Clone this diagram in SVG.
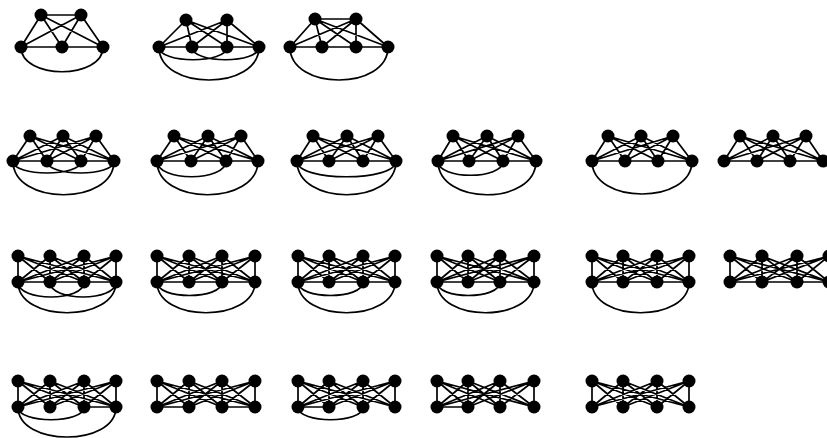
<svg xmlns="http://www.w3.org/2000/svg" width="827" height="438" viewBox="0 0 827 438">
<style>
.e{fill:none;stroke:#000;stroke-width:1.7;stroke-linecap:round}
.n circle{fill:#000}
</style>
<rect width="827" height="438" fill="#fff"/>
<g id="connectors" class="e">
<!-- Row 1 -->
<path d="M41 15L81 15M41 15L21 47M41 15L62 47M41 15L103 47M81 15L21 47M81 15L62 47M81 15L103 47M21 47L103 47"/>
<path d="M21 47C21 80 103 80 103 47"/>
<path d="M186 20L159 47M186 20L192 47M186 20L227 47M186 20L259 47M227 20L159 47M227 20L192 47M227 20L227 47M227 20L259 47M159 47L259 47"/>
<path d="M159 47C159 64 227 64 227 47M192 47C192 64 259 64 259 47M159 47C159 91 259 91 259 47"/>
<path d="M315 19L356 19M315 19L290 47M315 19L322 47M315 19L356 47M315 19L388 47M356 19L290 47M356 19L322 47M356 19L356 47M356 19L388 47M290 47L388 47"/>
<path d="M290 47C290 91 388 91 388 47"/>
<!-- Row 2 -->
<path d="M30 136L13 161M30 136L47 161M30 136L81 161M30 136L114 161M63 136L13 161M63 136L47 161M63 136L81 161M63 136L114 161M96 136L13 161M96 136L47 161M96 136L81 161M96 136L114 161M13 161L114 161"/>
<path d="M13 161C13 177 81 177 81 161M47 161C47 177 114 177 114 161M13 161C13 206 114 206 114 161"/>
<path d="M174 136L157 161M174 136L191 161M174 136L226 161M174 136L258 161M208 136L157 161M208 136L191 161M208 136L226 161M208 136L258 161M241 136L157 161M241 136L191 161M241 136L226 161M241 136L258 161M157 161L258 161"/>
<path d="M157 161C157 182 226 182 226 161M157 161C157 206 258 206 258 161"/>
<path d="M313 136L297 161M313 136L329 161M313 136L363 161M313 136L396 161M347 136L297 161M347 136L329 161M347 136L363 161M347 136L396 161M378 136L297 161M378 136L329 161M378 136L363 161M378 136L396 161M297 161L396 161"/>
<path d="M297 161C297 182 396 182 396 161M297 161C297 206 396 206 396 161"/>
<path d="M453 136L438 161M453 136L469 161M453 136L503 161M453 136L536 161M487 136L438 161M487 136L469 161M487 136L503 161M487 136L536 161M518 136L438 161M518 136L469 161M518 136L503 161M518 136L536 161M438 161L536 161"/>
<path d="M438 161C438 180 503 180 503 161M438 161C438 206 536 206 536 161"/>
<path d="M608 136L592 161M608 136L625 161M608 136L658 161M608 136L692 161M641 136L592 161M641 136L625 161M641 136L658 161M641 136L692 161M673 136L592 161M673 136L625 161M673 136L658 161M673 136L692 161M592 161L692 161"/>
<path d="M592 161C592 205 692 205 692 161"/>
<path d="M740 136L724 161M740 136L757 161M740 136L790 161M740 136L823 161M773 136L724 161M773 136L757 161M773 136L790 161M773 136L823 161M806 136L724 161M806 136L757 161M806 136L790 161M806 136L823 161M724 161L823 161"/>
<!-- Row 3 -->
<path d="M18 256L18 282M18 256L50 282M18 256L84 282M18 256L116 282M50 256L18 282M50 256L50 282M50 256L84 282M50 256L116 282M84 256L18 282M84 256L50 282M84 256L84 282M84 256L116 282M116 256L18 282M116 256L50 282M116 256L84 282M116 256L116 282M18 282L116 282"/>
<path d="M18 282C18 302 84 302 84 282M50 282C50 302 116 302 116 282M18 282C18 323 116 323 116 282"/>
<path d="M157 256L157 282M157 256L189 282M157 256L222 282M157 256L255 282M189 256L157 282M189 256L189 282M189 256L222 282M189 256L255 282M222 256L157 282M222 256L189 282M222 256L222 282M222 256L255 282M255 256L157 282M255 256L189 282M255 256L222 282M255 256L255 282M157 282L255 282"/>
<path d="M157 282C157 300 222 300 222 282M157 282C157 323 255 323 255 282"/>
<path d="M298 256L298 282M298 256L329 282M298 256L363 282M298 256L395 282M329 256L298 282M329 256L329 282M329 256L363 282M329 256L395 282M363 256L298 282M363 256L329 282M363 256L363 282M363 256L395 282M395 256L298 282M395 256L329 282M395 256L363 282M395 256L395 282M298 282L395 282"/>
<path d="M298 282C298 300 363 300 363 282M298 282C298 323 395 323 395 282"/>
<path d="M437 256L437 282M437 256L468 282M437 256L500 282M437 256L534 282M468 256L437 282M468 256L468 282M468 256L500 282M468 256L534 282M500 256L437 282M500 256L468 282M500 256L500 282M500 256L534 282M534 256L437 282M534 256L468 282M534 256L500 282M534 256L534 282M437 282L534 282"/>
<path d="M437 282C437 300 500 300 500 282M437 282C437 323 534 323 534 282"/>
<path d="M592 256L592 282M592 256L623 282M592 256L657 282M592 256L689 282M623 256L592 282M623 256L623 282M623 256L657 282M623 256L689 282M657 256L592 282M657 256L623 282M657 256L657 282M657 256L689 282M689 256L592 282M689 256L623 282M689 256L657 282M689 256L689 282M592 282L689 282"/>
<path d="M592 282C592 323 689 323 689 282"/>
<path d="M730 256L730 282M730 256L762 282M730 256L797 282M730 256L829 282M762 256L730 282M762 256L762 282M762 256L797 282M762 256L829 282M797 256L730 282M797 256L762 282M797 256L797 282M797 256L829 282M829 256L730 282M829 256L762 282M829 256L797 282M829 256L829 282M730 282L829 282"/>
<!-- Row 4 -->
<path d="M18 381L18 407M18 381L50 407M18 381L84 407M18 381L116 407M50 381L18 407M50 381L50 407M50 381L84 407M50 381L116 407M84 381L18 407M84 381L50 407M84 381L84 407M84 381L116 407M116 381L18 407M116 381L50 407M116 381L84 407M116 381L116 407M84 407L116 407"/>
<path d="M18 407C18 424 84 424 84 407M18 407C18 447 116 447 116 407"/>
<path d="M157 381L157 407M157 381L189 407M157 381L222 407M157 381L255 407M189 381L157 407M189 381L189 407M189 381L222 407M189 381L255 407M222 381L157 407M222 381L189 407M222 381L222 407M222 381L255 407M255 381L157 407M255 381L189 407M255 381L222 407M255 381L255 407M157 407L189 407M222 407L255 407"/>
<path d="M298 381L298 407M298 381L329 407M298 381L363 407M298 381L395 407M329 381L298 407M329 381L329 407M329 381L363 407M329 381L395 407M363 381L298 407M363 381L329 407M363 381L363 407M363 381L395 407M395 381L298 407M395 381L329 407M395 381L363 407M395 381L395 407M298 407L329 407"/>
<path d="M298 407C298 424 363 424 363 407"/>
<path d="M437 381L437 407M437 381L468 407M437 381L500 407M437 381L534 407M468 381L437 407M468 381L468 407M468 381L500 407M468 381L534 407M500 381L437 407M500 381L468 407M500 381L500 407M500 381L534 407M534 381L437 407M534 381L468 407M534 381L500 407M534 381L534 407M437 407L468 407"/>
<path d="M592 381L592 407M592 381L623 407M592 381L657 407M592 381L689 407M623 381L592 407M623 381L623 407M623 381L657 407M623 381L689 407M657 381L592 407M657 381L623 407M657 381L657 407M657 381L689 407M689 381L592 407M689 381L623 407M689 381L657 407M689 381L689 407"/>
</g>
<g id="nodes" class="n">
<g id="g1t1"><circle cx="41" cy="15" r="6.5"/></g><g id="g1t2"><circle cx="81" cy="15" r="6.5"/></g>
<g id="g1b1"><circle cx="21" cy="47" r="6.5"/></g><g id="g1b2"><circle cx="62" cy="47" r="6.5"/></g><g id="g1b3"><circle cx="103" cy="47" r="6.5"/></g>
<g id="g2t1"><circle cx="186" cy="20" r="6.5"/></g><g id="g2t2"><circle cx="227" cy="20" r="6.5"/></g>
<g id="g2b1"><circle cx="159" cy="47" r="6.5"/></g><g id="g2b2"><circle cx="192" cy="47" r="6.5"/></g><g id="g2b3"><circle cx="227" cy="47" r="6.5"/></g><g id="g2b4"><circle cx="259" cy="47" r="6.5"/></g>
<g id="g3t1"><circle cx="315" cy="19" r="6.5"/></g><g id="g3t2"><circle cx="356" cy="19" r="6.5"/></g>
<g id="g3b1"><circle cx="290" cy="47" r="6.5"/></g><g id="g3b2"><circle cx="322" cy="47" r="6.5"/></g><g id="g3b3"><circle cx="356" cy="47" r="6.5"/></g><g id="g3b4"><circle cx="388" cy="47" r="6.5"/></g>

<g id="g4t1"><circle cx="30" cy="136" r="6.5"/></g><g id="g4t2"><circle cx="63" cy="136" r="6.5"/></g><g id="g4t3"><circle cx="96" cy="136" r="6.5"/></g>
<g id="g4b1"><circle cx="13" cy="161" r="6.5"/></g><g id="g4b2"><circle cx="47" cy="161" r="6.5"/></g><g id="g4b3"><circle cx="81" cy="161" r="6.5"/></g><g id="g4b4"><circle cx="114" cy="161" r="6.5"/></g>
<g id="g5t1"><circle cx="174" cy="136" r="6.5"/></g><g id="g5t2"><circle cx="208" cy="136" r="6.5"/></g><g id="g5t3"><circle cx="241" cy="136" r="6.5"/></g>
<g id="g5b1"><circle cx="157" cy="161" r="6.5"/></g><g id="g5b2"><circle cx="191" cy="161" r="6.5"/></g><g id="g5b3"><circle cx="226" cy="161" r="6.5"/></g><g id="g5b4"><circle cx="258" cy="161" r="6.5"/></g>
<g id="g6t1"><circle cx="313" cy="136" r="6.5"/></g><g id="g6t2"><circle cx="347" cy="136" r="6.5"/></g><g id="g6t3"><circle cx="378" cy="136" r="6.5"/></g>
<g id="g6b1"><circle cx="297" cy="161" r="6.5"/></g><g id="g6b2"><circle cx="329" cy="161" r="6.5"/></g><g id="g6b3"><circle cx="363" cy="161" r="6.5"/></g><g id="g6b4"><circle cx="396" cy="161" r="6.5"/></g>
<g id="g7t1"><circle cx="453" cy="136" r="6.5"/></g><g id="g7t2"><circle cx="487" cy="136" r="6.5"/></g><g id="g7t3"><circle cx="518" cy="136" r="6.5"/></g>
<g id="g7b1"><circle cx="438" cy="161" r="6.5"/></g><g id="g7b2"><circle cx="469" cy="161" r="6.5"/></g><g id="g7b3"><circle cx="503" cy="161" r="6.5"/></g><g id="g7b4"><circle cx="536" cy="161" r="6.5"/></g>
<g id="g8t1"><circle cx="608" cy="136" r="6.5"/></g><g id="g8t2"><circle cx="641" cy="136" r="6.5"/></g><g id="g8t3"><circle cx="673" cy="136" r="6.5"/></g>
<g id="g8b1"><circle cx="592" cy="161" r="6.5"/></g><g id="g8b2"><circle cx="625" cy="161" r="6.5"/></g><g id="g8b3"><circle cx="658" cy="161" r="6.5"/></g><g id="g8b4"><circle cx="692" cy="161" r="6.5"/></g>
<g id="g9t1"><circle cx="740" cy="136" r="6.5"/></g><g id="g9t2"><circle cx="773" cy="136" r="6.5"/></g><g id="g9t3"><circle cx="806" cy="136" r="6.5"/></g>
<g id="g9b1"><circle cx="724" cy="161" r="6.5"/></g><g id="g9b2"><circle cx="757" cy="161" r="6.5"/></g><g id="g9b3"><circle cx="790" cy="161" r="6.5"/></g><g id="g9b4"><circle cx="823" cy="161" r="6.5"/></g>

<g id="g10t1"><circle cx="18" cy="256" r="6.5"/></g><g id="g10t2"><circle cx="50" cy="256" r="6.5"/></g><g id="g10t3"><circle cx="84" cy="256" r="6.5"/></g><g id="g10t4"><circle cx="116" cy="256" r="6.5"/></g>
<g id="g10b1"><circle cx="18" cy="282" r="6.5"/></g><g id="g10b2"><circle cx="50" cy="282" r="6.5"/></g><g id="g10b3"><circle cx="84" cy="282" r="6.5"/></g><g id="g10b4"><circle cx="116" cy="282" r="6.5"/></g>
<g id="g11t1"><circle cx="157" cy="256" r="6.5"/></g><g id="g11t2"><circle cx="189" cy="256" r="6.5"/></g><g id="g11t3"><circle cx="222" cy="256" r="6.5"/></g><g id="g11t4"><circle cx="255" cy="256" r="6.5"/></g>
<g id="g11b1"><circle cx="157" cy="282" r="6.5"/></g><g id="g11b2"><circle cx="189" cy="282" r="6.5"/></g><g id="g11b3"><circle cx="222" cy="282" r="6.5"/></g><g id="g11b4"><circle cx="255" cy="282" r="6.5"/></g>
<g id="g12t1"><circle cx="298" cy="256" r="6.5"/></g><g id="g12t2"><circle cx="329" cy="256" r="6.5"/></g><g id="g12t3"><circle cx="363" cy="256" r="6.5"/></g><g id="g12t4"><circle cx="395" cy="256" r="6.5"/></g>
<g id="g12b1"><circle cx="298" cy="282" r="6.5"/></g><g id="g12b2"><circle cx="329" cy="282" r="6.5"/></g><g id="g12b3"><circle cx="363" cy="282" r="6.5"/></g><g id="g12b4"><circle cx="395" cy="282" r="6.5"/></g>
<g id="g13t1"><circle cx="437" cy="256" r="6.5"/></g><g id="g13t2"><circle cx="468" cy="256" r="6.5"/></g><g id="g13t3"><circle cx="500" cy="256" r="6.5"/></g><g id="g13t4"><circle cx="534" cy="256" r="6.5"/></g>
<g id="g13b1"><circle cx="437" cy="282" r="6.5"/></g><g id="g13b2"><circle cx="468" cy="282" r="6.5"/></g><g id="g13b3"><circle cx="500" cy="282" r="6.5"/></g><g id="g13b4"><circle cx="534" cy="282" r="6.5"/></g>
<g id="g14t1"><circle cx="592" cy="256" r="6.5"/></g><g id="g14t2"><circle cx="623" cy="256" r="6.5"/></g><g id="g14t3"><circle cx="657" cy="256" r="6.5"/></g><g id="g14t4"><circle cx="689" cy="256" r="6.5"/></g>
<g id="g14b1"><circle cx="592" cy="282" r="6.5"/></g><g id="g14b2"><circle cx="623" cy="282" r="6.5"/></g><g id="g14b3"><circle cx="657" cy="282" r="6.5"/></g><g id="g14b4"><circle cx="689" cy="282" r="6.5"/></g>
<g id="g15t1"><circle cx="730" cy="256" r="6.5"/></g><g id="g15t2"><circle cx="762" cy="256" r="6.5"/></g><g id="g15t3"><circle cx="797" cy="256" r="6.5"/></g><g id="g15t4"><circle cx="829" cy="256" r="6.5"/></g>
<g id="g15b1"><circle cx="730" cy="282" r="6.5"/></g><g id="g15b2"><circle cx="762" cy="282" r="6.5"/></g><g id="g15b3"><circle cx="797" cy="282" r="6.5"/></g><g id="g15b4"><circle cx="829" cy="282" r="6.5"/></g>

<g id="g16t1"><circle cx="18" cy="381" r="6.5"/></g><g id="g16t2"><circle cx="50" cy="381" r="6.5"/></g><g id="g16t3"><circle cx="84" cy="381" r="6.5"/></g><g id="g16t4"><circle cx="116" cy="381" r="6.5"/></g>
<g id="g16b1"><circle cx="18" cy="407" r="6.5"/></g><g id="g16b2"><circle cx="50" cy="407" r="6.5"/></g><g id="g16b3"><circle cx="84" cy="407" r="6.5"/></g><g id="g16b4"><circle cx="116" cy="407" r="6.5"/></g>
<g id="g17t1"><circle cx="157" cy="381" r="6.5"/></g><g id="g17t2"><circle cx="189" cy="381" r="6.5"/></g><g id="g17t3"><circle cx="222" cy="381" r="6.5"/></g><g id="g17t4"><circle cx="255" cy="381" r="6.5"/></g>
<g id="g17b1"><circle cx="157" cy="407" r="6.5"/></g><g id="g17b2"><circle cx="189" cy="407" r="6.5"/></g><g id="g17b3"><circle cx="222" cy="407" r="6.5"/></g><g id="g17b4"><circle cx="255" cy="407" r="6.5"/></g>
<g id="g18t1"><circle cx="298" cy="381" r="6.5"/></g><g id="g18t2"><circle cx="329" cy="381" r="6.5"/></g><g id="g18t3"><circle cx="363" cy="381" r="6.5"/></g><g id="g18t4"><circle cx="395" cy="381" r="6.5"/></g>
<g id="g18b1"><circle cx="298" cy="407" r="6.5"/></g><g id="g18b2"><circle cx="329" cy="407" r="6.5"/></g><g id="g18b3"><circle cx="363" cy="407" r="6.5"/></g><g id="g18b4"><circle cx="395" cy="407" r="6.5"/></g>
<g id="g19t1"><circle cx="437" cy="381" r="6.5"/></g><g id="g19t2"><circle cx="468" cy="381" r="6.5"/></g><g id="g19t3"><circle cx="500" cy="381" r="6.5"/></g><g id="g19t4"><circle cx="534" cy="381" r="6.5"/></g>
<g id="g19b1"><circle cx="437" cy="407" r="6.5"/></g><g id="g19b2"><circle cx="468" cy="407" r="6.5"/></g><g id="g19b3"><circle cx="500" cy="407" r="6.5"/></g><g id="g19b4"><circle cx="534" cy="407" r="6.5"/></g>
<g id="g20t1"><circle cx="592" cy="381" r="6.5"/></g><g id="g20t2"><circle cx="623" cy="381" r="6.5"/></g><g id="g20t3"><circle cx="657" cy="381" r="6.5"/></g><g id="g20t4"><circle cx="689" cy="381" r="6.5"/></g>
<g id="g20b1"><circle cx="592" cy="407" r="6.5"/></g><g id="g20b2"><circle cx="623" cy="407" r="6.5"/></g><g id="g20b3"><circle cx="657" cy="407" r="6.5"/></g><g id="g20b4"><circle cx="689" cy="407" r="6.5"/></g>
</g>
</svg>
